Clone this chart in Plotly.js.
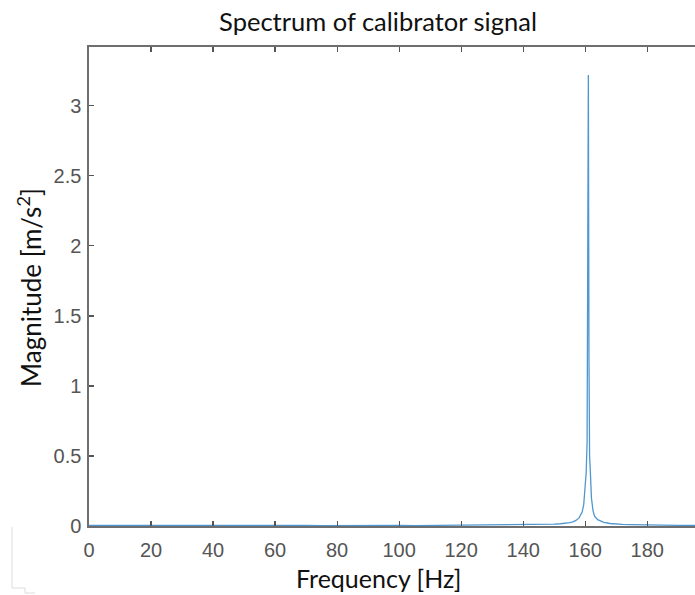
<!DOCTYPE html>
<html><head><meta charset="utf-8">
<script src="https://cdn.plot.ly/plotly-3.0.1.min.js"></script>
<style>html,body{margin:0;padding:0;overflow:hidden;background:#fff;}#plot{width:710px;height:595px;}</style>
</head><body><div id="plot"></div>
<script>
const freqHz = [0,2,5,8,12,16,20,25,30,35,40,45,50,55,60,65,70,75,80,85,90,95,100,105,110,115,120,125,130,135,140,143,146,148,150,152,154,155,156,157,158,159,159.5,160,160.3,160.6,160.8,161,161.2,161.4,161.7,162,162.5,163,164,165,166,168,170,172,175,178,180,183,186,190,194,197];
const magnitude = [0.004,0.006,0.004,0.005,0.003,0.004,0.005,0.004,0.003,0.004,0.004,0.003,0.004,0.005,0.003,0.004,0.004,0.003,0.004,0.004,0.003,0.004,0.004,0.003,0.004,0.005,0.004,0.004,0.005,0.005,0.006,0.008,0.01,0.011,0.013,0.016,0.02,0.024,0.03,0.04,0.058,0.1,0.15,0.28,0.38,0.6,1.5,3.22,1.2,0.5,0.36,0.2,0.11,0.07,0.045,0.035,0.026,0.018,0.014,0.012,0.01,0.008,0.007,0.006,0.005,0.005,0.004,0.004];
const xTicks = [0,20,40,60,80,100,120,140,160,180];
const yTicks = [0,0.5,1,1.5,2,2.5,3];
const yTickText = ['0','0.5','1','1.5','2','2.5','3'];

const L = 89, T = 47, B = 69, W = 710, H = 595, R = 10;
const PW = W - L - R, PH = H - T - B;
const px = v => (v - L) / PW;
const py = v => (H - B - v) / PH;

const titleFont = {family:'Lato, Open Sans, sans-serif', size:25, color:'#111'};
const axisCommon = {
  showgrid:false, zeroline:false, showline:true, linecolor:'#6e6e6e', linewidth:1.6,
  mirror:'allticks', ticks:'inside', ticklen:5, tickcolor:'#555', tickwidth:1.2,
  tickfont:{family:'Liberation Sans, Arial, sans-serif', size:20, color:'#555'}
};
const layout = {
  width:W, height:H,
  margin:{l:L, r:R, t:T, b:B},
  paper_bgcolor:'#fff', plot_bgcolor:'#fff',
  showlegend:false,
  title:{text:'Spectrum of calibrator signal', x:378/W, xanchor:'center', xref:'container', y:1-22/H, yanchor:'middle', yref:'container',
         font:{family:'Lato, Open Sans, sans-serif', size:25.5, color:'#111'}},
  xaxis:Object.assign({}, axisCommon, {range:[0,197], tickvals:xTicks, ticktext:xTicks.map(String), ticklabelstandoff:5}),
  yaxis:Object.assign({}, axisCommon, {range:[0,3.42], tickvals:yTicks, ticktext:yTickText, ticklabelstandoff:2}),
  annotations:[
    {text:'Frequency [Hz]', xref:'paper', yref:'paper', x:px(378), y:py(578), xanchor:'center', yanchor:'middle', showarrow:false, font:titleFont},
    {text:'Magnitude [m/s<sup>2</sup>]', xref:'paper', yref:'paper', x:px(29), y:py(288), xanchor:'center', yanchor:'middle', textangle:-90, showarrow:false,
     font:{family:'Lato, Open Sans, sans-serif', size:26, color:'#111'}}
  ],
  shapes:[
    {type:'line', xref:'paper', yref:'paper', x0:px(12), x1:px(12), y0:py(527), y1:py(588), line:{color:'#dcdcdc', width:1}},
    {type:'line', xref:'paper', yref:'paper', x0:px(12), x1:px(25), y0:py(588), y1:py(588), line:{color:'#dcdcdc', width:1}},
    {type:'line', xref:'paper', yref:'paper', x0:px(25), x1:px(25), y0:py(588), y1:py(593), line:{color:'#dcdcdc', width:1}},
    {type:'line', xref:'paper', yref:'paper', x0:px(25), x1:px(35), y0:py(593), y1:py(593), line:{color:'#dcdcdc', width:1}}
  ]
};
Plotly.newPlot('plot', [{
  x:freqHz, y:magnitude, type:'scatter', mode:'lines',
  line:{color:'#4f97d0', width:1.3}, hoverinfo:'skip'
}], layout, {displayModeBar:false, staticPlot:true});
</script></body></html>
